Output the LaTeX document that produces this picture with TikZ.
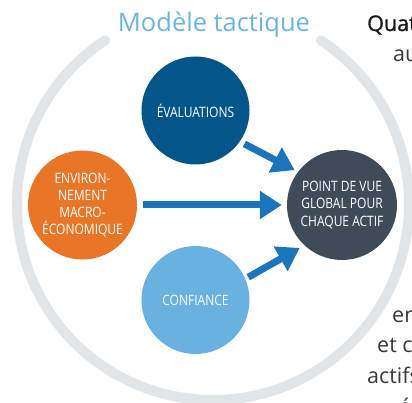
\documentclass[tikz,border=0pt]{standalone}
\usepackage{fontspec}
\setmainfont{Open Sans}
\newfontfamily\condfont[FakeStretch=0.84]{Open Sans}
\newfontfamily\semifont[FakeBold=1.2]{Open Sans}
\usepackage{tikz}
\usetikzlibrary{arrows.meta}
\definecolor{ringgrey}{HTML}{E1E5E8}
\definecolor{titleblue}{HTML}{6AB4E4}
\definecolor{evalblue}{HTML}{04558A}
\definecolor{macroorange}{HTML}{E87626}
\definecolor{confblue}{HTML}{69B1E1}
\definecolor{viewgrey}{HTML}{3E4C5A}
\definecolor{flowblue}{HTML}{1A75BC}
\definecolor{bodytext}{HTML}{3A3A3A}
\tikzset{
  bubble/.style={circle, minimum size=108pt, inner sep=0pt, text=white, align=center,
    font=\condfont\fontsize{14.3}{17.3}\selectfont},
  flow/.style={draw=flowblue, line width=7pt, -{Triangle[length=22pt, width=27pt]}},
  body/.style={text=bodytext, anchor=base west, inner sep=0pt, font=\fontsize{21.5}{31}\selectfont}
}

\begin{document}
\begin{tikzpicture}[x=1pt, y=1pt, line join=miter]
  \useasboundingbox (0,0) rectangle (412,402);
  \clip (0,0) rectangle (412,402);
  % outer ring, open at the top for the title
  \draw[ringgrey, line width=10pt, line cap=round] (213,198) ++(123.4:196) arc (123.4:416.6:196);
  \node[text=titleblue, font=\fontsize{25.5}{30}\selectfont] (title) at (214,377) {Modèle tactique};
  % the four factors
  \node[bubble, fill=evalblue] (eval) at (195.5,291.5) {ÉVALUATIONS};
  \node[bubble, fill=macroorange, minimum size=109pt] (macro) at (82.5,197) {ENVIRON-\\NEMENT\\MACRO-\\ÉCONOMIQUE};
  \node[bubble, fill=confblue] (conf) at (195.5,102) {CONFIANCE};
  \node[bubble, fill=viewgrey, minimum size=110pt] (view) at (342,197) {POINT DE VUE\\GLOBAL POUR\\CHAQUE ACTIF};
  \draw[flow, shorten <=5pt, shorten >=3.6pt] (eval.325) -- (view.143);
  \draw[flow, shorten <=6pt, shorten >=5pt] (macro) -- (view);
  \draw[flow, shorten <=3.3pt, shorten >=5.3pt] (conf.23) -- (view.227);
  % running text beside the figure
  \node[body, text=black!90, font=\semifont\fontsize{21.5}{31}\selectfont] (quat) at (367,371) {Quat};
  \node[body] (au) at (393,340) {au};
  \node[body] (en) at (392,80) {en};
  \node[body] (etc) at (377,50) {et c};
  \node[body] (actifs) at (367,19) {actifs};
  \node[body] (e) at (399,-12) {é};
\end{tikzpicture}
\end{document}
